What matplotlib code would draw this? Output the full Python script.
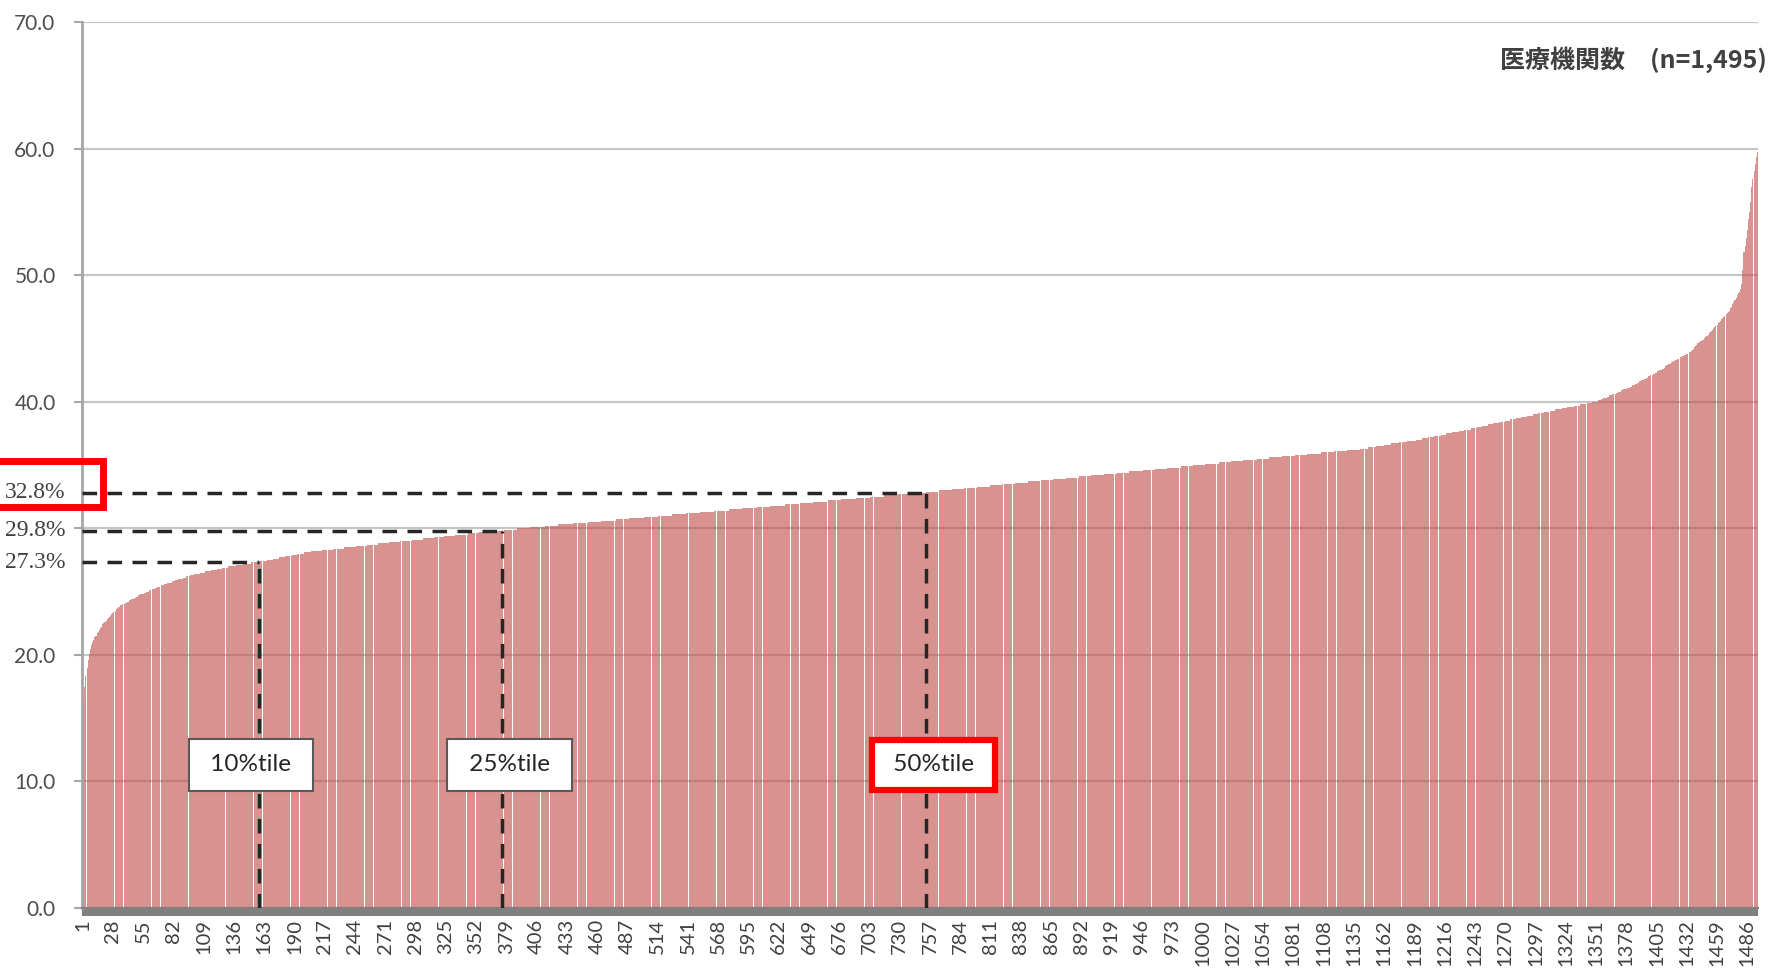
import matplotlib
matplotlib.use('Agg')
import matplotlib.pyplot as plt
from matplotlib.patches import Rectangle
import numpy as np

# rate (%) per hospital, stored as a frequency table (rate, number of hospitals), ascending
rate_pct = [
    15.2, 16.4, 17.5, 18.3, 19.0, 19.6, 20.1, 20.5, 20.8, 21.0, 21.2,
    21.4, 21.5, 21.7, 21.8, 22.0, 22.1, 22.2, 22.4, 22.5,
    22.6, 22.7, 22.8, 22.9, 23.0, 23.1, 23.2, 23.3, 23.4, 23.5, 23.6, 23.7,
    23.8, 23.9, 24.0, 24.1, 24.2, 24.3, 24.4, 24.5, 24.6,
    24.7, 24.8, 24.9, 25.0, 25.1, 25.2, 25.3, 25.4,
    25.5, 25.6, 25.7, 25.8, 25.9, 26.0, 26.1, 26.2, 26.3,
    26.4, 26.5, 26.6, 26.7, 26.8, 26.9,
    27.0, 27.1, 27.2, 27.3,
    27.4, 27.5, 27.6, 27.7, 27.8, 27.9, 28.0, 28.1,
    28.2, 28.3, 28.4, 28.5, 28.6, 28.7,
    28.8, 28.9, 29.0, 29.1, 29.2, 29.3,
    29.4, 29.5, 29.6, 29.7, 29.8,
    29.9, 30.0, 30.1, 30.2, 30.3, 30.4, 30.5, 30.6, 30.7, 30.8,
    30.9, 31.0, 31.1, 31.2, 31.3, 31.4, 31.5, 31.6, 31.7, 31.8,
    31.9, 32.0, 32.1, 32.2, 32.3, 32.4, 32.5, 32.6, 32.7, 32.8,
    32.9, 33.0, 33.1, 33.2, 33.3, 33.4, 33.5, 33.6, 33.7, 33.8,
    33.9, 34.0, 34.1, 34.2, 34.3, 34.4, 34.5, 34.6, 34.7, 34.8,
    34.9, 35.0, 35.1, 35.2, 35.3, 35.4, 35.5, 35.6, 35.7, 35.8,
    35.9, 36.0, 36.1, 36.2,
    36.3, 36.4, 36.5, 36.6, 36.7, 36.8, 36.9,
    37.0, 37.1, 37.2, 37.3, 37.4, 37.5, 37.6, 37.7, 37.8, 37.9, 38.0,
    38.1, 38.2, 38.3, 38.4, 38.5, 38.6, 38.7, 38.8, 38.9, 39.0, 39.1, 39.2,
    39.3, 39.4, 39.5, 39.6, 39.7, 39.8, 39.9, 40.0,
    40.1, 40.2, 40.3, 40.4, 40.5, 40.6, 40.7, 40.8, 40.9, 41.0, 41.1, 41.2,
    41.3, 41.4, 41.5, 41.6, 41.7, 41.8, 41.9, 42.0, 42.1, 42.2, 42.3, 42.4, 42.5, 42.6, 42.7, 42.8,
    42.9, 43.0, 43.1, 43.2, 43.3, 43.4, 43.5, 43.6, 43.7, 43.8, 43.9, 44.0, 44.1, 44.2, 44.3, 44.4, 44.5, 44.6, 44.7,
    44.8, 44.9, 45.0, 45.1, 45.2, 45.3, 45.4, 45.5, 45.6, 45.7, 45.8, 45.9, 46.0,
    46.1, 46.2, 46.3, 46.4, 46.5, 46.6, 46.7, 46.8, 46.9, 47.0, 47.1, 47.2, 47.4, 47.5,
    47.7, 47.9, 48.0, 48.2, 48.4, 48.6, 48.7, 48.9,
    49.3, 50.4, 51.8, 52.3, 52.9, 53.6, 54.4, 55.0, 55.8, 57.0, 57.6, 58.2, 58.8, 59.3, 59.7,
]
n_hosp = [
    1, 1, 1, 1, 1, 1, 1, 1, 1, 1, 1,
    1, 1, 1, 1, 1, 1, 1, 1, 1,
    1, 1, 1, 1, 1, 1, 1, 1, 1, 1, 1, 1,
    2, 2, 2, 2, 2, 2, 2, 2, 2,
    2, 3, 2, 3, 2, 3, 2, 3,
    3, 3, 4, 3, 3, 4, 3, 3, 4,
    5, 5, 5, 5, 5, 5,
    7, 7, 7, 8,
    6, 5, 6, 5, 6, 5, 6, 6,
    10, 10, 10, 10, 10, 10,
    10, 10, 10, 10, 10, 9,
    10, 11, 10, 11, 10,
    13, 12, 13, 12, 13, 13, 12, 13, 12, 13,
    13, 12, 13, 12, 13, 13, 12, 13, 12, 13,
    13, 12, 13, 12, 13, 13, 12, 13, 12, 13,
    11, 12, 11, 11, 12, 11, 11, 12, 11, 11,
    12, 11, 11, 12, 11, 11, 12, 11, 11, 12,
    11, 11, 12, 11, 11, 12, 11, 11, 12, 11,
    12, 12, 11, 12,
    7, 7, 7, 7, 7, 7, 8,
    5, 6, 5, 6, 5, 5, 6, 5, 6, 5, 5,
    5, 5, 5, 5, 5, 5, 5, 5, 5, 5, 5, 5,
    5, 6, 5, 6, 5, 6, 5, 5,
    3, 2, 3, 2, 3, 3, 2, 3, 2, 3, 3, 2,
    2, 2, 2, 2, 2, 2, 2, 2, 2, 2, 2, 2, 2, 2, 1, 1,
    2, 2, 2, 2, 2, 2, 2, 2, 2, 2, 2, 1, 1, 1, 1, 1, 1, 1, 1,
    2, 2, 1, 1, 1, 1, 1, 1, 1, 1, 1, 1, 1,
    1, 1, 1, 1, 1, 1, 1, 1, 1, 1, 1, 1, 1, 1,
    1, 1, 1, 1, 1, 1, 1, 1,
    1, 1, 1, 1, 1, 1, 1, 1, 1, 1, 1, 1, 1, 1, 1,
]

# percentile markers: rank of the hospital and its rate
pct_names = ['10%tile', '25%tile', '50%tile']
pct_rank = [158, 375, 753]
pct_value = [27.3, 29.8, 32.8]
pct_value_labels = ['27.3%', '29.8%', '32.8%']

y_ticks = [0, 10, 20, 30, 40, 50, 60, 70]
y_tick_labels = ['0.0', '10.0', '20.0', '', '40.0', '50.0', '60.0', '70.0']
x_label_step = 27
header = '医療機関数\u3000(n=1,495)'

values = np.repeat(rate_pct, n_hosp)
ranks = np.arange(1, len(values) + 1)

W, H = 1769, 973
fig = plt.figure(figsize=(W / 100, H / 100), dpi=100)
ax = fig.add_axes([82 / W, 1 - 908 / H, 1676 / W, 886 / H])

ax.bar(ranks, values, width=0.95, color='#C0504D', alpha=0.62, linewidth=0, zorder=2)
ax.set_xlim(0.5, len(values) + 0.5)
ax.set_ylim(0, 70)

ax.set_yticks(y_ticks)
ax.set_yticklabels(y_tick_labels, family='Lato', fontsize=15, color='#4D4D4D')
ax.yaxis.grid(True, color='#C6C6C6', lw=1.6, zorder=1)
ax.set_axisbelow(True)
ax.tick_params(axis='y', length=6, width=1.5, color='#A6A6A6', pad=13)

ax.set_xticks(ranks[::x_label_step])
ax.set_xticklabels([str(r) for r in ranks[::x_label_step]], rotation=90,
                   family='Lato', fontsize=14.5, color='#404040')
ax.set_xticks(ranks, minor=True)
ax.tick_params(axis='x', which='both', length=6, width=1.6, color='#808080', pad=2)

for side in ['top', 'right']:
    ax.spines[side].set_visible(False)
ax.spines['left'].set_color('#A6A6A6')
ax.spines['left'].set_linewidth(2)
ax.spines['bottom'].set_color('#808080')
ax.spines['bottom'].set_linewidth(1.5)

# percentile guide lines
dash = (0, (4.2, 3.0))
for r, v in zip(pct_rank, pct_value):
    ax.hlines(v, 0.5, r, colors='#262626', linestyles=dash, lw=2.5, zorder=3)
    ax.vlines(r, 0, v, colors='#262626', linestyles=dash, lw=2.5, zorder=3)

for v, lab in zip(pct_value, pct_value_labels):
    ax.text(-0.010, v, lab, transform=ax.get_yaxis_transform(), ha='right', va='center',
            family='Liberation Serif', fontsize=17, color='#404040')

box_shift = [-7.5, 7.5, 8]
for name, r, dx in zip(pct_names, pct_rank, box_shift):
    median = name == '50%tile'
    ax.annotate(' ' + name + ' ', xy=(r, 11.3), xytext=(dx, 0), textcoords='offset pixels',
                ha='center', va='center', family='Lato', fontsize=17.5, color='#262626',
                bbox=dict(boxstyle='square,pad=0.6' if median else 'square,pad=0.65',
                          fc='white', ec='red' if median else '#595959',
                          lw=4.5 if median else 1.5), zorder=5)

# highlight around the median rate label
ax.add_patch(Rectangle((-0.06, 31.7), 0.0725, 3.6, transform=ax.get_yaxis_transform(),
                       fill=False, ec='red', lw=5, clip_on=False, zorder=6))

ax.text(1.0055, 67.0, header, transform=ax.get_yaxis_transform(), ha='right', va='center',
        family=['Noto Sans CJK JP', 'DejaVu Sans'], fontsize=18, fontweight='bold',
        color='#404040')

fig.savefig('out.png', dpi=100)
